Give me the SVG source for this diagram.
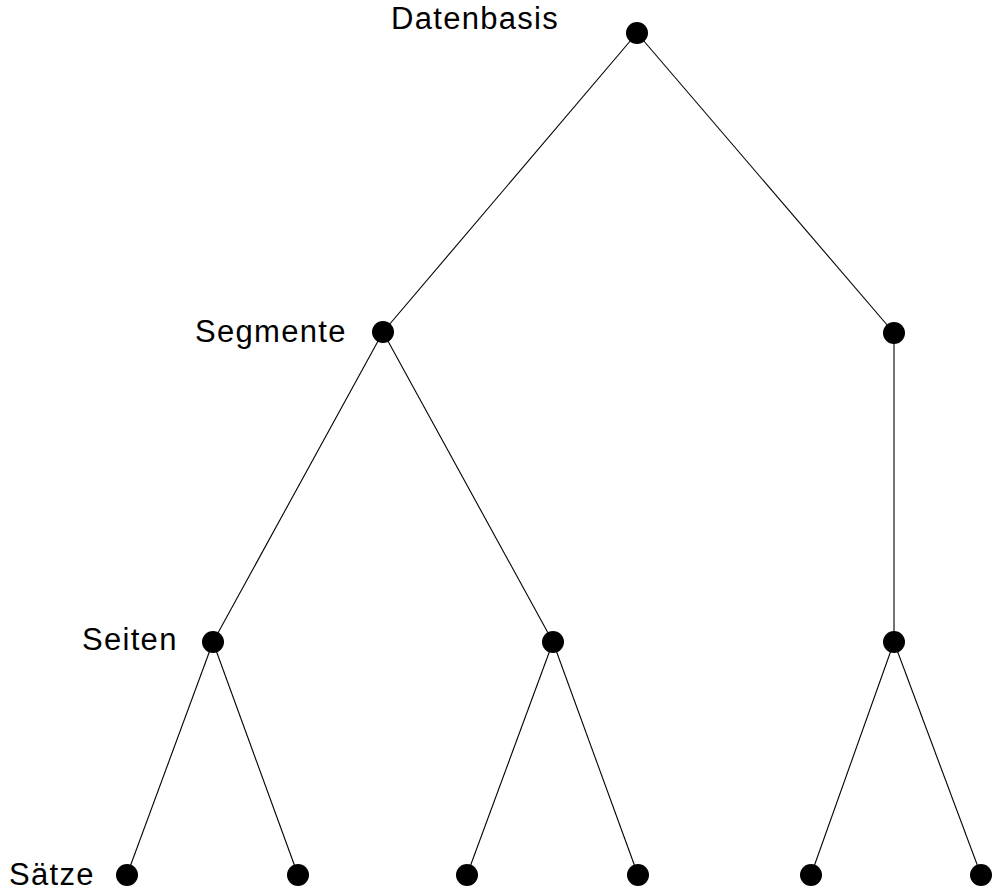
<svg xmlns="http://www.w3.org/2000/svg" width="994" height="895" viewBox="0 0 994 895">
  <style>
    .edge { stroke: #000; stroke-width: 1.1; fill: none; }
    .dot { fill: #000; }
    .lbl { font-family: "Liberation Sans", Arial, sans-serif; font-size: 31px; letter-spacing: 1.3px; fill: #000; }
  </style>
  <rect width="994" height="895" fill="#fff"/>
  <g id="connectors">
    <line class="edge" x1="637" y1="33" x2="383" y2="332"/>
    <line class="edge" x1="637" y1="33" x2="894" y2="333"/>
    <line class="edge" x1="383" y1="332" x2="213" y2="642"/>
    <line class="edge" x1="383" y1="332" x2="553" y2="642"/>
    <line class="edge" x1="894" y1="333" x2="894" y2="642"/>
    <line class="edge" x1="213" y1="642" x2="127" y2="875"/>
    <line class="edge" x1="213" y1="642" x2="298" y2="875"/>
    <line class="edge" x1="553" y1="642" x2="467" y2="875"/>
    <line class="edge" x1="553" y1="642" x2="638" y2="875"/>
    <line class="edge" x1="894" y1="642" x2="811" y2="875"/>
    <line class="edge" x1="894" y1="642" x2="981" y2="875"/>
  </g>
  <g id="datenbasis"><circle class="dot" cx="637" cy="33" r="11"/><text class="lbl" x="391" y="29">Datenbasis</text></g>
  <g id="segment-1"><circle class="dot" cx="383" cy="332" r="11"/><text class="lbl" x="195" y="342">Segmente</text></g>
  <g id="segment-2"><circle class="dot" cx="894" cy="333" r="11"/></g>
  <g id="seite-1"><circle class="dot" cx="213" cy="642" r="11"/><text class="lbl" x="82" y="650">Seiten</text></g>
  <g id="seite-2"><circle class="dot" cx="553" cy="642" r="11"/></g>
  <g id="seite-3"><circle class="dot" cx="894" cy="642" r="11"/></g>
  <g id="satz-1"><circle class="dot" cx="127" cy="875" r="11"/><text class="lbl" x="9" y="885">Sätze</text></g>
  <g id="satz-2"><circle class="dot" cx="298" cy="875" r="11"/></g>
  <g id="satz-3"><circle class="dot" cx="467" cy="875" r="11"/></g>
  <g id="satz-4"><circle class="dot" cx="638" cy="875" r="11"/></g>
  <g id="satz-5"><circle class="dot" cx="811" cy="875" r="11"/></g>
  <g id="satz-6"><circle class="dot" cx="981" cy="875" r="11"/></g>
</svg>
